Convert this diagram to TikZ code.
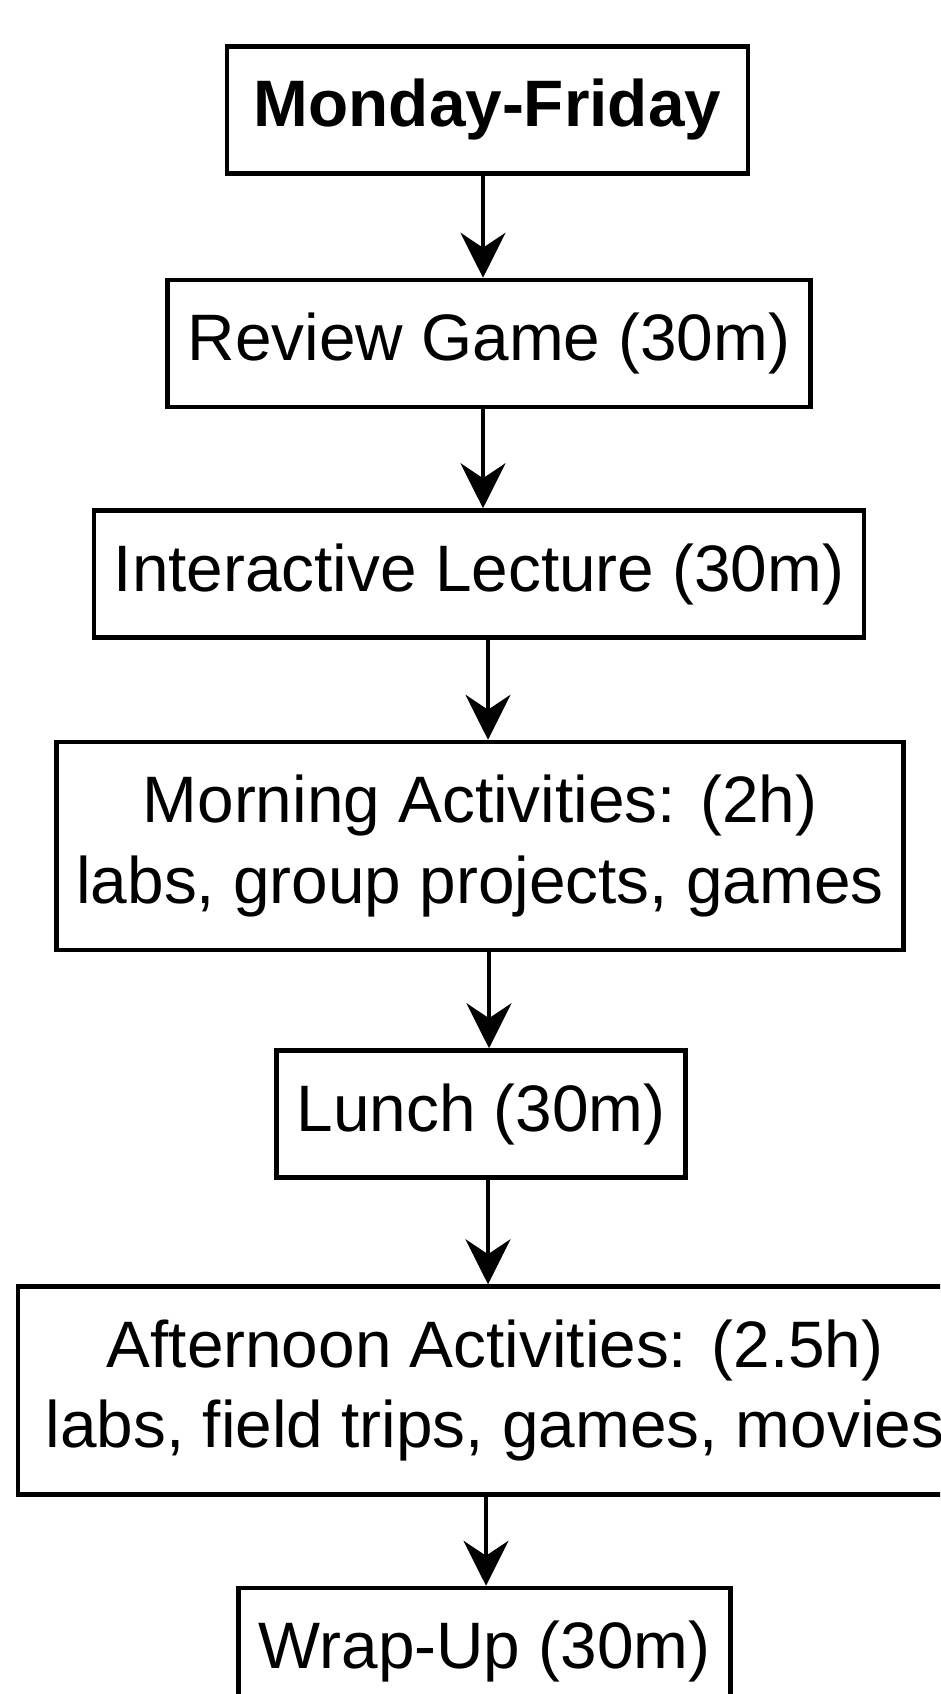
\documentclass[tikz,border=0pt]{standalone}
\usepackage{fontspec}
\setmainfont{Liberation Sans}
\usepackage{tikz}
\usetikzlibrary{positioning,arrows.meta}

\tikzset{
  stage/.style={draw, line width=2.6pt, align=center, inner xsep=0.4cm, inner ysep=0pt,
    minimum height=2.54cm, font=\fontsize{37.4}{46}\selectfont},
  bigstage/.style={stage, minimum height=4.16cm},
  flow/.style={-{Stealth[length=0.9cm,width=0.9cm,inset=0.3cm]}, line width=2pt}
}

\begin{document}
\begin{tikzpicture}[x=0.02cm, y=-0.02cm]

      \useasboundingbox (0,0) rectangle (940,1694);
      \clip (0,0) rectangle (940,1694);

      \node [stage, inner xsep=0.54cm] at (487.5, 110) (days) {\textbf{Monday-Friday}};
      \node [stage] at (489, 343.5) (review) {Review Game (30m)};
      \node [stage] at (479, 574) (lecture) {Interactive Lecture (30m)};
      \node [bigstage] at (480, 846) (morning) {Morning Activities: (2h)\\labs, group projects, games};
      \node [stage] at (481, 1114) (lunch) {Lunch (30m)};
      \node [bigstage, inner xsep=0.56cm] at (495, 1390.5) (afternoon) {Afternoon Activities: (2.5h)\\labs, field trips, games, movies};
      \node [stage] at (484.5, 1651.5) (wrap) {Wrap-Up (30m)};

      \draw [flow] (days.south -| 483,0) -- (483,0 |- review.north);
      \draw [flow] (review.south -| 483,0) -- (483,0 |- lecture.north);
      \draw [flow] (lecture.south -| 488,0) -- (488,0 |- morning.north);
      \draw [flow] (morning.south -| 489,0) -- (489,0 |- lunch.north);
      \draw [flow] (lunch.south -| 488,0) -- (488,0 |- afternoon.north);
      \draw [flow] (afternoon.south -| 486,0) -- (486,0 |- wrap.north);

    \end{tikzpicture}
\end{document}
